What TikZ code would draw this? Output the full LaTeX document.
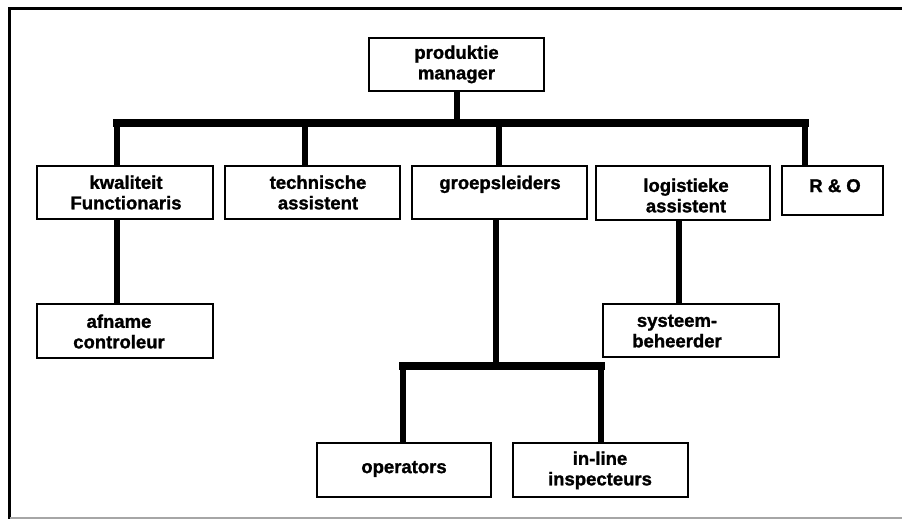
\documentclass[tikz,border=0pt]{standalone}
\usepackage{fontspec}
\setmainfont{Liberation Sans}[BoldFeatures={FakeBold=1.3}]
\begin{document}
\begin{tikzpicture}[x=1pt,y=-1pt,
  box/.style={draw=black,line width=1.4pt,fill=white,inner sep=0pt},
  lbl/.style={inner sep=0pt,align=center,font=\fontsize{18.5}{20.5}\selectfont\bfseries},
  conn/.style={line width=6pt,line cap=butt},
  bus/.style={line width=7.5pt,line cap=rect}]
\useasboundingbox (0,0) rectangle (902,519);
% outer frame (left and top edges, faint bottom edge)
\draw[line width=3.8pt,line join=miter] (902,8.5) -- (9.5,8.5) -- (9.5,519);
\draw[line width=1.6pt,black!35] (9.5,518) -- (902,518);

% boxes
\newcommand{\orgbox}[5]{\node[box,minimum width={#4-#2},minimum height={#5-#3}] (#1) at ({(#2+#4)/2},{(#3+#5)/2}) {};}
\orgbox{man}{369}{38}{544}{91}
\orgbox{kwa}{37}{166}{213}{219}
\orgbox{tec}{225}{166}{400}{219}
\orgbox{grp}{412}{166}{587}{219}
\orgbox{log}{596}{166}{770}{220}
\orgbox{ro}{782}{166}{883}{215}
\orgbox{afn}{37}{304}{213}{358}
\orgbox{sys}{603}{304}{779}{357}
\orgbox{ops}{317}{443}{491}{497}
\orgbox{inl}{513}{443}{688}{497}

% labels
\node[lbl] (tman) at (456.5,65) {\strut produktie\\\strut manager};
\node[lbl] (tkwa) at (126,195) {\strut kwaliteit\\\strut Functionaris};
\node[lbl] (ttec) at (318,195) {\strut technische\\\strut assistent};
\node[lbl] (tgrp) at (500,185) {\strut groepsleiders};
\node[lbl] (tlog) at (686,198) {\strut logistieke\\\strut assistent};
\node[lbl] (tro) at (835,188) {\strut R \& O};
\node[lbl] (tafn) at (119,334) {\strut afname\\\strut controleur};
\node[lbl] (tsys) at (677,333) {\strut systeem-\\\strut beheerder};
\node[lbl] (tops) at (404,469) {\strut operators};
\node[lbl] (tinl) at (600,471) {\strut in-line\\\strut inspecteurs};

% junction points
\coordinate (jm) at (457,123);
\coordinate (jk) at (117,123);
\coordinate (jt) at (305,123);
\coordinate (jg) at (499,123);
\coordinate (jr) at (805,123);
\coordinate (jo) at (403,366);
\coordinate (ji) at (601,366);
\coordinate (jq) at (496,366);

% connectors
\draw[conn] (jm |- man.south) -- (jm);
\draw[conn] (jk) -- (jk |- kwa.north);
\draw[conn] (jt) -- (jt |- tec.north);
\draw[conn] (jg) -- (jg |- grp.north);
\draw[conn] (jr) -- (jr |- ro.north);
\draw[bus] (jk) -- (jr);
\draw[conn] (117,0 |- kwa.south) -- (117,0 |- afn.north);
\draw[conn] (679,0 |- log.south) -- (679,0 |- sys.north);
\draw[conn] (jq |- grp.south) -- (jq);
\draw[conn] (jo) -- (jo |- ops.north);
\draw[conn] (ji) -- (ji |- inl.north);
\draw[bus] (jo) -- (ji);
\end{tikzpicture}
\end{document}
